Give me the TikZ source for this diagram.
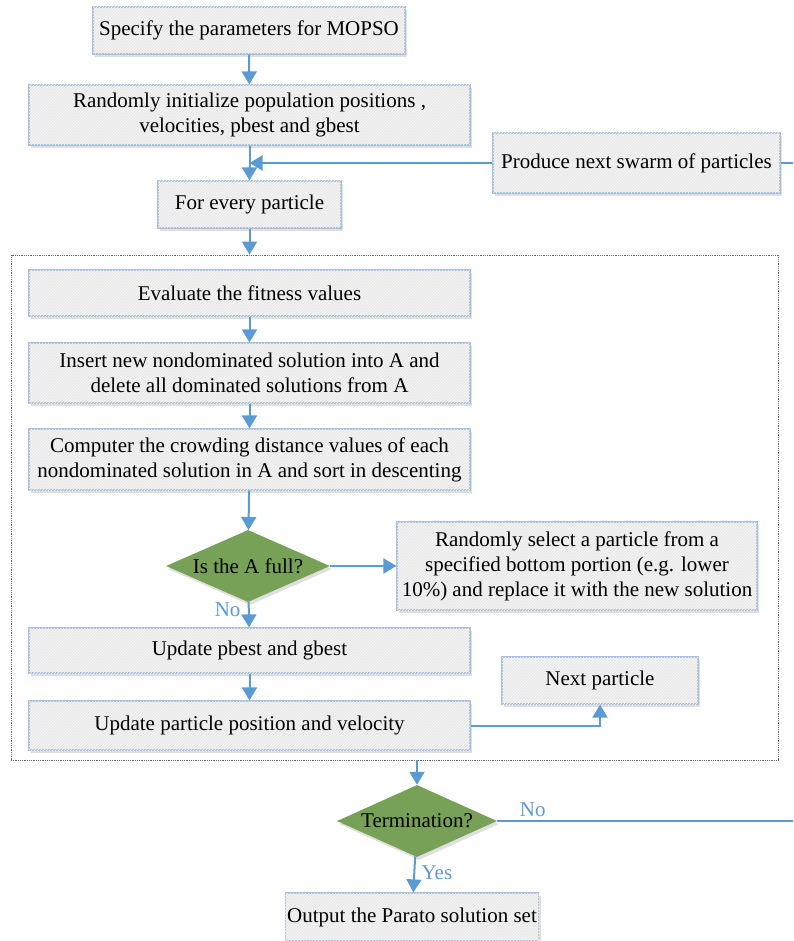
\documentclass[tikz,border=0pt]{standalone}
\usepackage{fontspec}
\setmainfont{Liberation Serif}
\usetikzlibrary{shapes.geometric,arrows.meta,shadows,patterns}
\definecolor{flowblue}{RGB}{91,155,213}
\definecolor{boxedge}{RGB}{168,192,218}
\definecolor{boxfill}{RGB}{233,233,233}
\definecolor{decgreen}{RGB}{119,161,86}

\begin{document}
\begin{tikzpicture}[x=1pt,y=-1pt,
    font=\fontsize{21}{25}\selectfont,
    stepbox/.style={draw=boxedge, line width=1.2pt, fill=boxfill, align=center, inner sep=2pt,
      drop shadow={shadow xshift=2pt, shadow yshift=-3pt, opacity=0.25},
      postaction={pattern=north east lines, pattern color=white!70!boxfill}},
    decide/.style={diamond, aspect=2.2, fill=decgreen, inner sep=0pt,
      drop shadow={shadow xshift=2pt, shadow yshift=-3pt, opacity=0.25}},
    group/.style={draw=black!60, densely dotted, line width=0.8pt},
    flow/.style={flowblue, line width=2pt, -{Triangle[length=13pt,width=15pt]}},
    flowline/.style={flowblue, line width=2pt},
    lbl/.style={text=flowblue}]
  \useasboundingbox (0,0) rectangle (793,941);

  % outer loop
  \node[stepbox, minimum width=312, minimum height=47] (spec) at (249,30.5) {Specify the parameters for MOPSO};
  \node[stepbox, minimum width=441, minimum height=60] (init) at (249.5,115) {Randomly initialize population positions ,\\ velocities, pbest and gbest};
  \node[stepbox, minimum width=183, minimum height=47] (every) at (249.5,204.5) {For every particle};
  \node[stepbox, minimum width=287, minimum height=60] (swarm) at (636.5,163) {Produce next swarm of particles};

  % inner loop
  \node[group, minimum width=767, minimum height=505] (loop) at (394.5,507.5) {};
  \node[stepbox, minimum width=441, minimum height=46] (fitness) at (249.5,293) {Evaluate the fitness values};
  \node[stepbox, minimum width=441, minimum height=60] (insert) at (249.5,373) {Insert new nondominated solution into A and\\ delete all dominated solutions from A};
  \node[stepbox, minimum width=441, minimum height=61] (crowd) at (249.5,459.5) {Computer the crowding distance values of each\\ nondominated solution in A and sort in descenting};
  \node[decide, minimum width=164, minimum height=72] (full) at (248,566) {\makebox[0pt]{Is the A full?}};
  \node[stepbox, minimum width=360, minimum height=88] (select) at (577,566) {Randomly select a particle from a\\ specified bottom portion (e.g. lower\\ 10\%) and replace it with the new solution};
  \node[stepbox, minimum width=441, minimum height=45] (update) at (249.5,650.5) {Update pbest and gbest};
  \node[stepbox, minimum width=441, minimum height=49] (move) at (249.5,725.5) {Update particle position and velocity};
  \node[stepbox, minimum width=196, minimum height=47] (next) at (600,680.5) {Next particle};

  % end
  \node[decide, minimum width=160, minimum height=72] (term) at (417,821) {\makebox[0pt]{Termination?}};
  \node[stepbox, minimum width=250, minimum height=48] (output) at (412,917) {Output the Parato solution set};

  \coordinate (swarmout) at (793,163);
  \coordinate (termout) at (793,821);

  \draw[flow] (spec) -- (init);
  \draw[flow] (init) -- (every);
  \draw[flow] (swarm.west) -- (init.south |- swarm.west);
  \draw[flowline] (swarm.east) -- (swarmout);
  \draw[flow] (every) -- (every |- loop.north);
  \draw[flow] (fitness) -- (insert);
  \draw[flow] (insert) -- (crowd);
  \draw[flow] (crowd) -- (full);
  \draw[flow] (full) -- (select);
  \draw[flow] (full) -- node[lbl, left=4pt, pos=0.3] {No} (update);
  \draw[flow] (update) -- (move);
  \draw[flow] (move.east) -| (next.south);
  \draw[flow] (term |- loop.south) -- (term);
  \draw[flowline] (term.east) -- node[lbl, above, pos=0.12] {No} (termout);
  \draw[flow] (term) -- node[lbl, right=3pt, pos=0.45] {Yes} (output);
\end{tikzpicture}
\end{document}
